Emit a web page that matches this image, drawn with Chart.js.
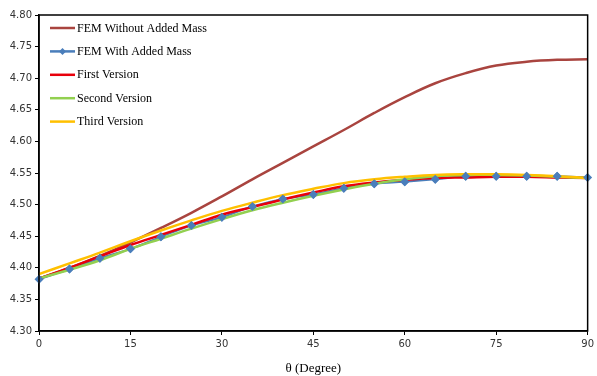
<!DOCTYPE html>
<html>
<head>
<meta charset="utf-8">
<script src="https://cdn.jsdelivr.net/npm/chart.js@4.4.1/dist/chart.umd.min.js"></script>
<style>
  html, body { margin: 0; padding: 0; background: #fff; overflow: hidden; }
  #wrap { width: 597px; height: 376px; position: relative; }
</style>
</head>
<body>
<div id="wrap"><canvas id="chartTheta" width="597" height="376"></canvas></div>
<script>
// --- datos ---
const angulos = [0, 5, 10, 15, 20, 25, 30, 35, 40, 45, 50, 55, 60, 65, 70, 75, 80, 85, 90];

const femSinMasa = [4.383, 4.400, 4.419, 4.440, 4.463, 4.487, 4.513, 4.540, 4.566, 4.592,
                    4.618, 4.645, 4.670, 4.692, 4.708, 4.720, 4.726, 4.729, 4.730];
const femConMasa = [4.382, 4.398, 4.415, 4.430, 4.449, 4.467, 4.480, 4.497, 4.509, 4.516,
                    4.526, 4.533, 4.536, 4.540, 4.545, 4.545, 4.545, 4.545, 4.543];
const primeraVersion = [4.383, 4.400, 4.418, 4.436, 4.452, 4.468, 4.484, 4.496, 4.508, 4.519,
                        4.529, 4.535, 4.539, 4.542, 4.543, 4.544, 4.544, 4.543, 4.542];
const segundaVersion = [4.383, 4.397, 4.412, 4.430, 4.446, 4.462, 4.477, 4.491, 4.503, 4.514,
                        4.524, 4.533, 4.540, 4.545, 4.547, 4.547, 4.546, 4.544, 4.542];
const terceraVersion = [4.390, 4.407, 4.424, 4.442, 4.459, 4.475, 4.490, 4.503, 4.515, 4.525,
                        4.534, 4.540, 4.544, 4.547, 4.548, 4.548, 4.547, 4.545, 4.542];

const etiquetas = ['FEM Without Added Mass', 'FEM With Added Mass', 'First Version', 'Second Version', 'Third Version'];
const colores = ['#a9443f', '#4a7ebb', '#e8000b', '#92d050', '#ffc000'];

const xTicks = [0, 15, 30, 45, 60, 75, 90];
const yTicks = [4.30, 4.35, 4.40, 4.45, 4.50, 4.55, 4.60, 4.65, 4.70, 4.75, 4.80];

function puntos(valores) {
    return angulos.map((a, i) => ({ x: a, y: valores[i] }));
}

// Marcadores azules encima de las lineas (como en Excel)
const marcadoresArriba = {
    id: 'marcadoresArriba',
    afterDatasetsDraw(chart) {
        const meta = chart.getDatasetMeta(1);
        const ctx = chart.ctx;
        ctx.save();
        meta.data.forEach(p => p.draw(ctx, chart.chartArea));
        ctx.restore();
    }
};

// Marco y leyenda dentro del area del grafico
const marcoYLeyenda = {
    id: 'marcoYLeyenda',
    afterDraw(chart) {
        const ctx = chart.ctx;
        const a = chart.chartArea;
        ctx.save();
        ctx.strokeStyle = '#000';
        ctx.lineWidth = 1.5;
        ctx.strokeRect(a.left, a.top, a.right - a.left, a.bottom - a.top);

        // leyenda
        ctx.font = '12px "Liberation Serif", "Times New Roman", serif';
        ctx.textBaseline = 'middle';
        chart.data.datasets.forEach((ds, i) => {
            const y = 28 + i * 23.4;
            ctx.strokeStyle = ds.borderColor;
            ctx.lineWidth = 2.5;
            ctx.beginPath();
            ctx.moveTo(50, y);
            ctx.lineTo(75, y);
            ctx.stroke();
            if (ds.pointRadius > 0) {
                ctx.fillStyle = ds.pointBackgroundColor;
                ctx.beginPath();
                ctx.moveTo(62.5, y - 3.5);
                ctx.lineTo(66, y);
                ctx.lineTo(62.5, y + 3.5);
                ctx.lineTo(59, y);
                ctx.closePath();
                ctx.fill();
            }
            ctx.fillStyle = '#000';
            ctx.fillText(ds.label, 77, y + 0.5);
        });
        ctx.restore();
    }
};

const datos = [femSinMasa, femConMasa, primeraVersion, segundaVersion, terceraVersion];

new Chart(document.getElementById('chartTheta'), {
    type: 'line',
    data: {
        datasets: datos.map((serie, i) => ({
            label: etiquetas[i],
            data: puntos(serie),
            borderColor: colores[i],
            backgroundColor: colores[i],
            borderWidth: i === 1 ? 2 : 2.5,
            pointRadius: i === 1 ? 4.5 : 0,
            pointStyle: 'rectRot',
            pointBackgroundColor: colores[1],
            pointBorderColor: colores[1],
            pointBorderWidth: 0,
            tension: 0.4,
            order: 5 - i
        }))
    },
    options: {
        responsive: false,
        animation: false,
        layout: { padding: { left: 0, right: 7, top: 15, bottom: 0 } },
        plugins: {
            legend: { display: false },
            tooltip: { enabled: false }
        },
        scales: {
            x: {
                type: 'linear',
                min: 0,
                max: 90,
                afterBuildTicks: (scale) => { scale.ticks = xTicks.map(v => ({ value: v })); },
                afterFit: (scale) => { scale.height = 45; },
                grid: { drawOnChartArea: false, drawTicks: true, tickLength: 4, color: '#000' },
                border: { display: true, color: '#000', width: 1.5 },
                ticks: {
                    color: '#333',
                    font: { family: '"DejaVu Sans", sans-serif', size: 10 },
                    padding: 3,
                    maxRotation: 0
                },
                title: {
                    display: true,
                    text: 'θ (Degree)',
                    color: '#000',
                    font: { family: '"Liberation Serif", "Times New Roman", serif', size: 13 },
                    padding: { top: 2, bottom: 0 }
                }
            },
            y: {
                min: 4.3,
                max: 4.8,
                afterBuildTicks: (scale) => { scale.ticks = yTicks.map(v => ({ value: v })); },
                afterFit: (scale) => { scale.width = 39; },
                grid: { drawOnChartArea: false, drawTicks: true, tickLength: 4, color: '#000' },
                border: { display: true, color: '#000', width: 1.5 },
                ticks: {
                    autoSkip: false,
                    color: '#333',
                    font: { family: '"DejaVu Sans", sans-serif', size: 10 },
                    padding: 3,
                    callback: (v) => v.toFixed(2)
                }
            }
        }
    },
    plugins: [marcadoresArriba, marcoYLeyenda]
});
</script>
</body>
</html>
